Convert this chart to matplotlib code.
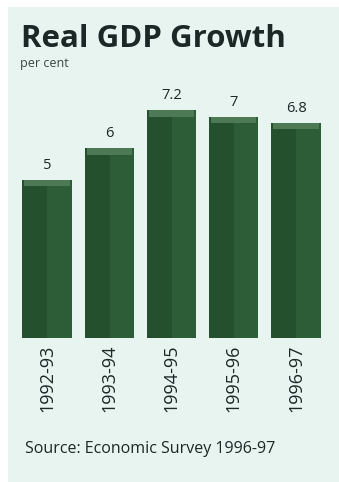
import matplotlib.pyplot as plt
from matplotlib.patches import Rectangle

# Real GDP growth, per cent
years = ["1992-93", "1993-94", "1994-95", "1995-96", "1996-97"]
growth = [5, 6, 7.2, 7, 6.8]
value_labels = ["5", "6", "7.2", "7", "6.8"]

bg = "#e8f4f0"
green = "#2c5d37"
green_dark = "#24502e"
green_top = "#4d7a55"
ink = "#1c2826"

fig = plt.figure(figsize=(3.39, 4.82), dpi=100, facecolor="white")
fig.patches.append(Rectangle((8 / 339, 0), 1, 475 / 482, transform=fig.transFigure,
                             facecolor=bg, edgecolor="none", zorder=-1))

ax = fig.add_axes([0, 144 / 482, 1, 238 / 482])
ax.set_facecolor("none")

x = list(range(len(years)))
w = 0.79
ax.bar(x, growth, width=w, color=green, edgecolor="none", zorder=2)
# darker left face for a bit of depth
ax.bar([i - w / 2 + 0.2 for i in x], growth, width=0.4, color=green_dark,
       edgecolor="none", zorder=3)
# lighter cap on top of each column
cap = 0.2
ax.bar(x, [cap] * len(x), bottom=[g - cap for g in growth], width=w * 0.92,
       color=green_top, edgecolor="none", zorder=4)

for i, (g, lab) in enumerate(zip(growth, value_labels)):
    ax.annotate(lab, (i, g), xytext=(0, 5), textcoords="offset points",
                ha="center", va="bottom", fontsize=10.5, color=ink,
                family="Open Sans")

ax.set_xlim(-0.755, 4.69)
ax.set_ylim(0, 7.53)
ax.set_xticks(x)
ax.set_xticklabels(years, rotation=90, fontsize=13, color=ink,
                   family="Open Sans", va="top")
ax.tick_params(axis="x", length=0, pad=5)
ax.set_yticks([])
for s in ax.spines.values():
    s.set_visible(False)

fig.text(21 / 339, 1 - 39 / 482, "Real GDP Growth", fontsize=22.5, fontweight="bold",
         color=ink, family="Open Sans", va="center", ha="left")
fig.text(20 / 339, 1 - 63 / 482, "per cent", fontsize=9, color="#3a4644",
         family="Open Sans", va="center", ha="left")
fig.text(25 / 339, 1 - 449 / 482, "Source: Economic Survey 1996-97", fontsize=11.5,
         color=ink, family="Open Sans", va="center", ha="left")

fig.savefig("out.png", dpi=100, facecolor=fig.get_facecolor())
